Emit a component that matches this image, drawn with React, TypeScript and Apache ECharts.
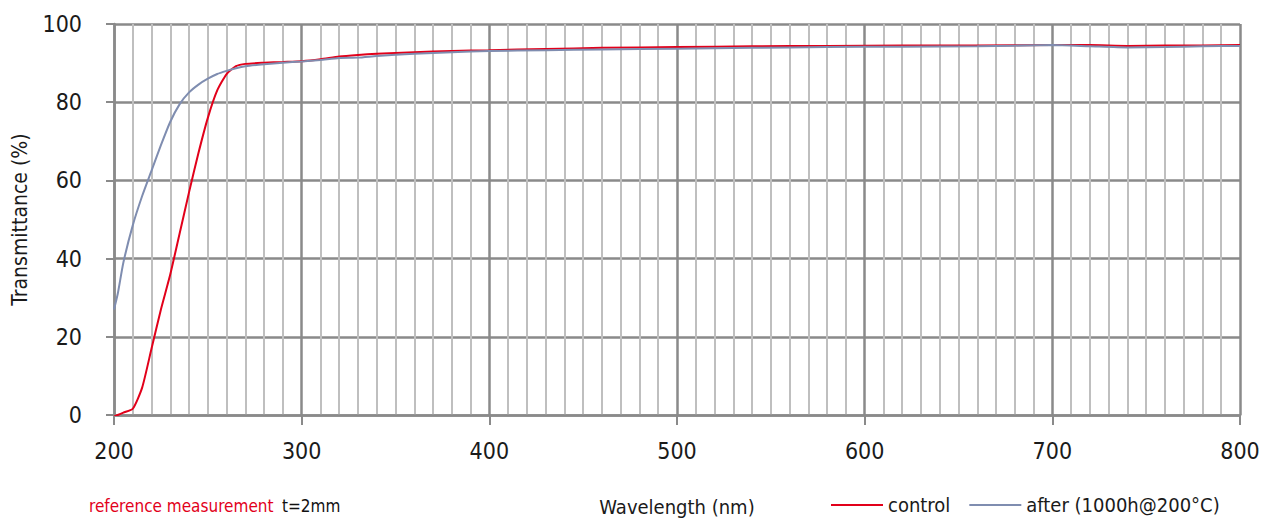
import React, { useEffect, useRef } from "react";
import * as echarts from "echarts";

const wavelengths = [200, 202, 205, 210, 215, 220, 225, 230, 235, 240, 245, 250, 255, 260, 265, 270, 280, 290, 300, 310, 320, 330, 340, 360, 380, 400, 430, 460, 500, 540, 580, 620, 660, 700, 720, 740, 760, 780, 800];
const controlValues = [-0.4, 0, 0.6, 1.6, 7, 17, 27, 36, 46.5, 57, 67, 76, 83, 87.2, 89.2, 89.8, 90.1, 90.3, 90.5, 91.0, 91.7, 92.1, 92.4, 92.8, 93.1, 93.3, 93.6, 93.9, 94.1, 94.3, 94.4, 94.5, 94.5, 94.6, 94.6, 94.4, 94.5, 94.5, 94.6];
const afterValues = [27, 31, 39, 48.5, 56, 62.5, 69, 75, 79.5, 82.5, 84.5, 86, 87.2, 88, 88.7, 89.2, 89.7, 90.1, 90.4, 90.8, 91.3, 91.4, 91.8, 92.4, 92.8, 93.1, 93.3, 93.5, 93.7, 93.9, 94.1, 94.2, 94.3, 94.6, 94.3, 94.0, 94.1, 94.3, 94.4];
const seriesNames = ["control", "after (1000h@200°C)"];
const xTitle = "Wavelength (nm)";
const yTitle = "Transmittance (%)";
const noteRed = "reference measurement";
const noteBlack = "t=2mm";

const FONT = "'DejaVu Sans Condensed', sans-serif";
const RED = "#e2001a";
const BLUE = "#7f8db0";
const TXT = "#1a1a1a";

export default function App() {
  const ref = useRef<HTMLDivElement>(null);
  useEffect(() => {
    if (!ref.current) return;
    const chart = echarts.init(ref.current, null, { renderer: "svg" });
    const toPairs = (vals: number[]) => wavelengths.map((w, i) => [w, vals[i]]);
    chart.setOption({
      animation: false,
      backgroundColor: "#ffffff",
      textStyle: { fontFamily: FONT },
      grid: { left: 114, right: 36, top: 24, bottom: 106, containLabel: false, outerBoundsMode: "none" },
      legend: {
        left: 831,
        top: 495,
        padding: 0,
        icon: "rect",
        itemWidth: 52,
        itemHeight: 2,
        itemGap: 19,
        textStyle: { fontFamily: FONT, fontSize: 20, color: TXT },
        data: seriesNames,
      },
      graphic: [
        {
          id: "noteRed",
          type: "text",
          left: 89,
          top: 497,
          style: { text: noteRed, fill: RED, fontFamily: FONT, fontSize: 17 },
        },
        {
          id: "noteBlack",
          type: "text",
          left: 282,
          top: 497,
          style: { text: noteBlack, fill: "#111111", fontFamily: FONT, fontSize: 17 },
        },
      ],
      xAxis: {
        type: "value",
        min: 200,
        max: 800,
        interval: 100,
        name: xTitle,
        nameLocation: "middle",
        nameGap: 82,
        nameTextStyle: { fontFamily: FONT, fontSize: 20, color: TXT },
        axisLine: { show: true, lineStyle: { color: "#8a8a8a", width: 2.5 } },
        axisTick: { show: true, length: 10, lineStyle: { color: "#8a8a8a", width: 2 } },
        axisLabel: { margin: 24, fontSize: 23, color: TXT, fontFamily: FONT },
        splitLine: { show: true, lineStyle: { color: "#8a8a8a", width: 2.5 } },
        minorTick: { show: false, splitNumber: 10 },
        minorSplitLine: { show: true, lineStyle: { color: "#bfbfbf", width: 2 } },
      },
      yAxis: {
        type: "value",
        min: 0,
        max: 100,
        interval: 20,
        name: yTitle,
        nameLocation: "middle",
        nameGap: 84,
        nameTextStyle: { fontFamily: FONT, fontSize: 21, color: TXT },
        axisLine: { show: true, lineStyle: { color: "#8a8a8a", width: 2.5 } },
        axisTick: { show: true, length: 8, lineStyle: { color: "#8a8a8a", width: 2 } },
        axisLabel: { margin: 32, fontSize: 23, color: TXT, fontFamily: FONT },
        splitLine: { show: true, lineStyle: { color: "#8a8a8a", width: 2.5 } },
      },
      series: [
        {
          name: seriesNames[0],
          type: "line",
          data: toPairs(controlValues),
          showSymbol: false,
          smooth: 0.2,
          lineStyle: { color: RED, width: 2 },
          itemStyle: { color: RED },
        },
        {
          name: seriesNames[1],
          type: "line",
          data: toPairs(afterValues),
          showSymbol: false,
          smooth: 0.2,
          lineStyle: { color: BLUE, width: 2 },
          itemStyle: { color: BLUE },
        },
      ],
    });
    return () => chart.dispose();
  }, []);
  return (
    <div
      ref={ref}
      style={{ position: "fixed", left: 0, top: 0, width: 1276, height: 521 }}
    />
  );
}
